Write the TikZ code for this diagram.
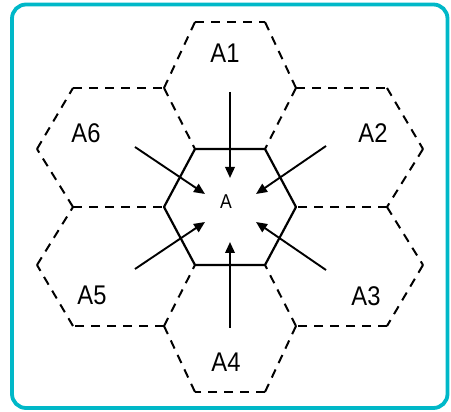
\documentclass[tikz,border=0pt]{standalone}
\usepackage{fontspec}
\setmainfont{Liberation Sans}[FakeStretch=0.88]
\usetikzlibrary{arrows.meta}
\definecolor{frame}{RGB}{0,184,200}
\tikzset{
  hexsolid/.style={line width=2.2pt, line join=round},
  hexdash/.style={line width=2pt, dash pattern=on 9pt off 7pt},
  arr/.style={line width=1.9pt, -{Triangle[length=11pt,width=9.5pt]}},
  lbl/.style={inner sep=0pt, font=\fontsize{27}{27}\selectfont},
  clbl/.style={inner sep=0pt, font=\fontsize{20}{20}\selectfont},
}
\begin{document}
\begin{tikzpicture}[x=1pt,y=-1pt]
\useasboundingbox (0,0) rectangle (451,412);
\draw[frame, line width=3.8pt, rounded corners=14pt] (12,4.5) rectangle (447.5,408);
% vertices
\coordinate (c1) at (195,149); \coordinate (c2) at (265,149);
\coordinate (c3) at (296,207); \coordinate (c4) at (265,265);
\coordinate (c5) at (195,265); \coordinate (c6) at (164,207);
\coordinate (p1) at (195,22);  \coordinate (p2) at (265,22);
\coordinate (p3) at (296,88);  \coordinate (p4) at (164,88);
\coordinate (q1) at (387,88);  \coordinate (q2) at (423,149);
\coordinate (q3) at (387,207); \coordinate (q4) at (423,265);
\coordinate (q5) at (387,326); \coordinate (q6) at (296,326);
\coordinate (r1) at (265,392); \coordinate (r2) at (195,392);
\coordinate (r3) at (164,326);
\coordinate (s1v) at (73,326); \coordinate (s2v) at (37,265);
\coordinate (s3v) at (73,207); \coordinate (s4v) at (37,149);
\coordinate (s5v) at (73,88);
% outer dashed hexagons, each edge once
\foreach \u/\v in {p1/p2,p2/p3,p3/c2,p4/c1,p1/p4,
                   p3/q1,q1/q2,q2/q3,q3/c3,
                   q3/q4,q4/q5,q5/q6,q6/c4,
                   q6/r1,r1/r2,r2/r3,r3/c5,
                   r3/s1v,s1v/s2v,s2v/s3v,s3v/c6,
                   s3v/s4v,s4v/s5v,s5v/p4}
  \draw[hexdash] (\u) -- (\v);
% central hexagon
\draw[hexsolid] (c1) -- (c2) -- (c3) -- (c4) -- (c5) -- (c6) -- cycle;
% labels
\node[clbl] (A)  at (226,202) {A};
\node[lbl] (A1) at (225,53) {A1};
\node[lbl] (A2) at (373,133) {A2};
\node[lbl] (A3) at (366,296) {A3};
\node[lbl] (A4) at (226,362) {A4};
\node[lbl] (A5) at (92,295) {A5};
\node[lbl] (A6) at (86,133) {A6};
% arrow endpoints
\coordinate (s1) at (230,92);  \coordinate (t1) at (230,178);
\coordinate (s4) at (230,328); \coordinate (t4) at (230,242);
\coordinate (s6) at (135,147); \coordinate (t6) at (205,194);
\coordinate (s2) at (326,146); \coordinate (t2) at (256,194);
\coordinate (s5) at (135,269); \coordinate (t5) at (205,222);
\coordinate (s3) at (326,270); \coordinate (t3) at (256,222);
\draw[arr] (s1) -- (t1);
\draw[arr] (s2) -- (t2);
\draw[arr] (s3) -- (t3);
\draw[arr] (s4) -- (t4);
\draw[arr] (s5) -- (t5);
\draw[arr] (s6) -- (t6);
\end{tikzpicture}
\end{document}
